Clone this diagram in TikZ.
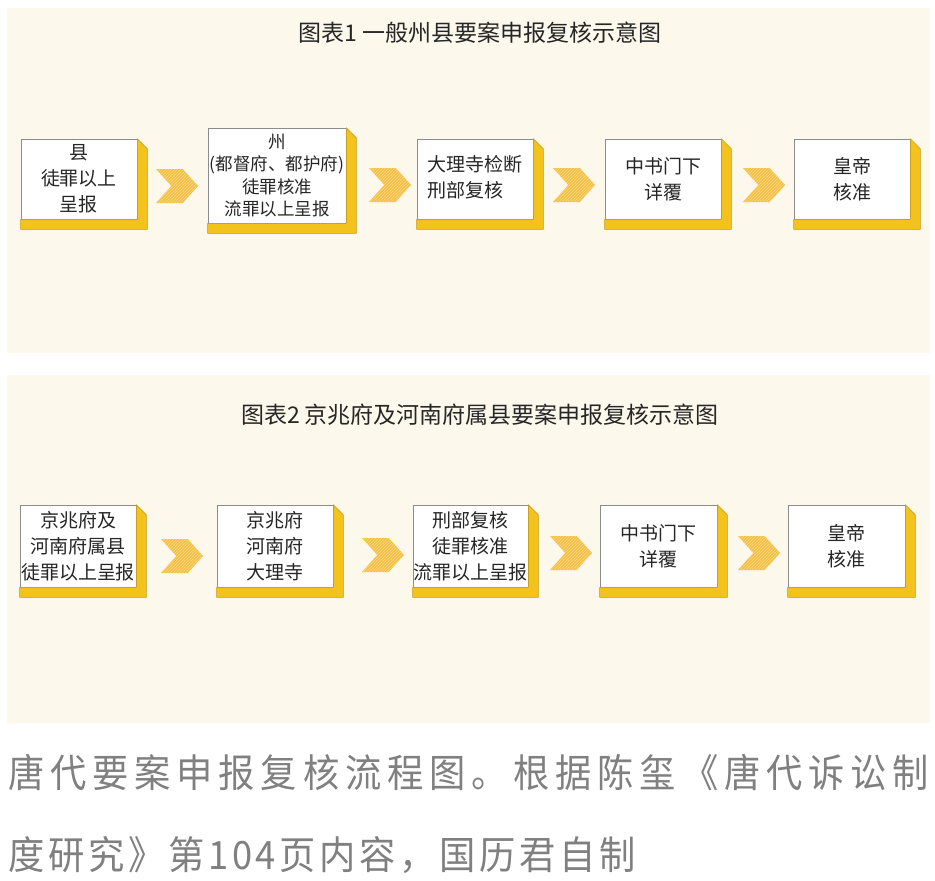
\documentclass[tikz,border=0pt]{standalone}
\usepackage{fontspec}
\setmainfont{Noto Sans CJK SC}
\newfontfamily\capone[LetterSpace=15.0,FakeStretch=0.93]{Noto Sans CJK SC}
\newfontfamily\captwo[LetterSpace=9.6,FakeStretch=0.93]{Noto Sans CJK SC}
\usetikzlibrary{shapes.symbols,patterns}
\definecolor{panel}{HTML}{FCF8EC}
\definecolor{extc}{HTML}{F4C21C}
\definecolor{extline}{HTML}{C29A14}
\definecolor{arwbase}{HTML}{F4BF48}
\definecolor{arwhatch}{HTML}{F9D982}
\definecolor{capgray}{HTML}{808080}
\definecolor{inkc}{HTML}{262626}
\definecolor{facebd}{HTML}{8C8C8C}
\tikzset{
  face/.style={draw=facebd, line width=0.6pt, fill=white, inner sep=0pt, align=center,
    text=inkc, font={\fontsize{19}{26}\selectfont}},
  extr/.style={fill=extc, draw=extline, line width=0.5pt, line join=round},
  arw/.style={signal, signal to=east, signal from=west, signal pointer angle=96,
    minimum width=42pt, minimum height=34pt, inner sep=0pt, draw=none,
    preaction={fill=arwbase}, pattern=north east lines, pattern color=arwhatch},
  ttl/.style={text=inkc, font={\fontsize{23}{27}\selectfont}, inner sep=0pt},
  capt/.style={text=capgray, inner sep=0pt, anchor=base west}
}
\newcommand\bx[7][]{%
  \node[face,#1,minimum width={#5-#3},minimum height={#6-#4}] (#2) at ({(#3+#5)/2},{(#4+#6)/2}) {#7};
  \filldraw[extr] (#2.north east) -- ++(10,10) -- ([shift={(10,10)}]#2.south east)
    -- ([shift={(0,10)}]#2.south west) -- (#2.south west) -- (#2.south east) -- cycle;}
\begin{document}
\begin{tikzpicture}[x=1pt,y=-1pt]
\useasboundingbox (0,0) rectangle (935,881);
\fill[white] (0,0) rectangle (935,881);
\fill[panel] (7,8) rectangle (930,353);
\fill[panel] (7,375) rectangle (930,723);

% panel 1
\node[ttl] (t1) at (480,33) {图表1 一般州县要案申报复核示意图};
\bx{p1a}{21}{139}{137}{219}{县\\徒罪以上\\呈报}
\bx[font={\fontsize{17.5}{22.5}\selectfont}]{p1b}{208}{128}{346}{223}{州\\(都督府、都护府)\\徒罪核准\\流罪以上呈报}
\bx{p1c}{417}{139}{533}{219}{\begin{tabular}{@{}l@{}}大理寺检断\\刑部复核\end{tabular}}
\bx{p1d}{605}{139}{721}{219}{中书门下\\详覆}
\bx{p1e}{794}{139}{910}{219}{皇帝\\核准}
\node[arw] (a11) at (177,186) {};
\node[arw] (a12) at (390,185) {};
\node[arw] (a13) at (574,185) {};
\node[arw] (a14) at (764,185) {};

% panel 2
\node[ttl] (t2) at (480,415) {图表2 京兆府及河南府属县要案申报复核示意图};
\bx{p2a}{20}{505}{136}{587}{京兆府及\\河南府属县\\徒罪以上呈报}
\bx{p2b}{217}{505}{333}{587}{京兆府\\河南府\\大理寺}
\bx{p2c}{413}{505}{528}{587}{刑部复核\\徒罪核准\\流罪以上呈报}
\bx{p2d}{600}{505}{717}{587}{中书门下\\详覆}
\bx{p2e}{788}{505}{905}{587}{皇帝\\核准}
\node[arw] (a21) at (182,556) {};
\node[arw] (a22) at (383,555) {};
\node[arw] (a23) at (571,553) {};
\node[arw] (a24) at (759,553) {};

% caption
\node[capt] (c1) at (8,787) {\fontsize{39}{45}\capone 唐代要案申报复核流程图。根据陈玺《唐代诉讼制};
\node[capt] (c2) at (8,869) {\fontsize{39}{45}\captwo 度研究》第104页内容，国历君自制};
\end{tikzpicture}
\end{document}
